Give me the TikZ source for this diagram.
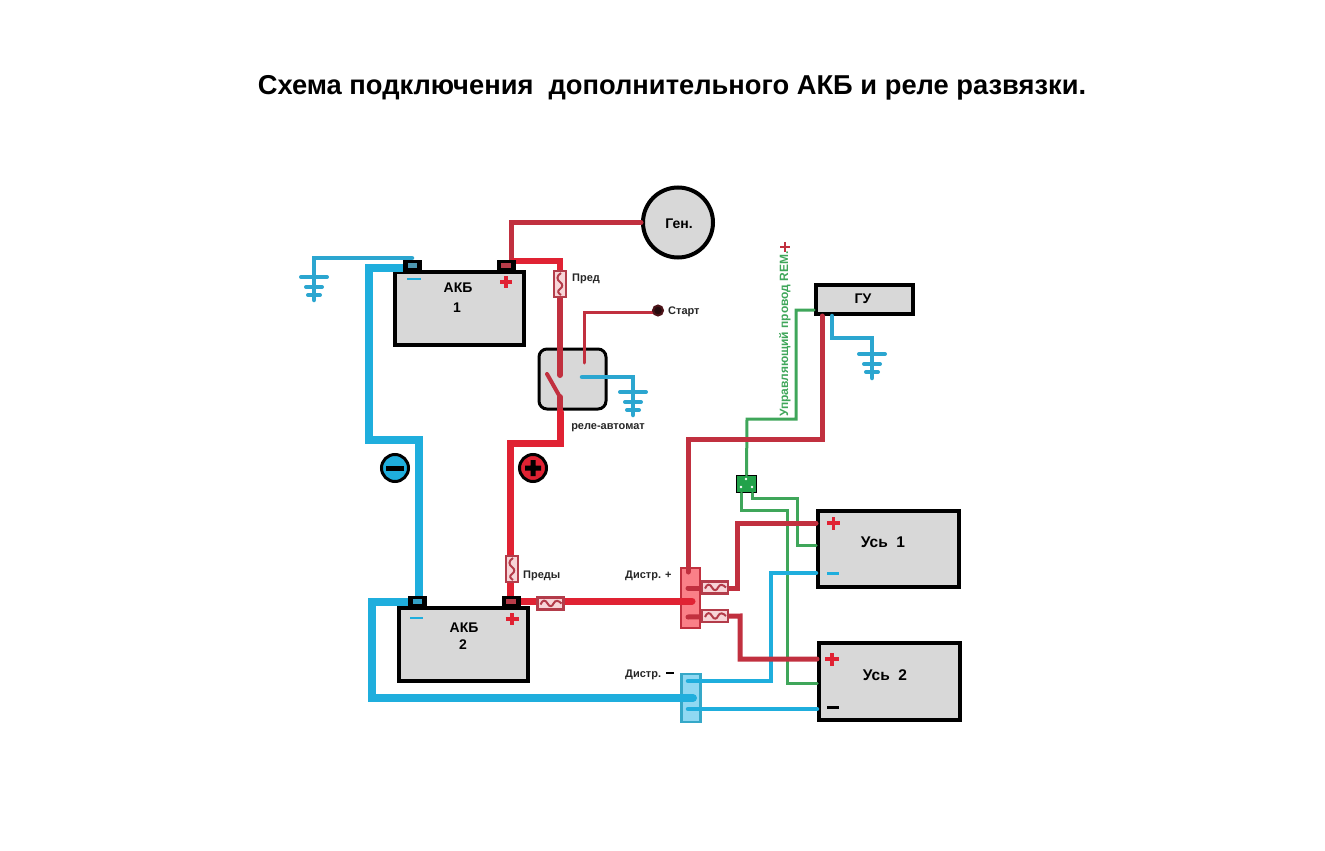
\documentclass[tikz,border=0pt]{standalone}
\usepackage{fontspec}
\setmainfont{Liberation Sans}
\usetikzlibrary{calc}
\definecolor{bred}{HTML}{E02233}
\definecolor{dred}{HTML}{C1303F}
\definecolor{wblue}{HTML}{1FAEDD}
\definecolor{gblue}{HTML}{2BA6D0}
\definecolor{wgreen}{HTML}{3FA65A}
\definecolor{boxg}{HTML}{D8D8D8}
\definecolor{fusepink}{HTML}{F7D5D8}
\definecolor{fuseb}{HTML}{B33C4A}
\definecolor{distp}{HTML}{FA8088}
\definecolor{distb}{HTML}{8FD8F2}
\definecolor{distbl}{HTML}{35A8C8}
\definecolor{spg}{HTML}{22A24A}
\tikzset{
  wire/.style={line cap=round,line join=miter},
  redthick/.style={wire,draw=bred,line width=7pt},
  redmid/.style={wire,draw=dred,line width=6pt},
  redthin/.style={wire,draw=dred,line width=5pt},
  redhair/.style={wire,draw=dred,line width=3pt},
  bluethick/.style={wire,draw=wblue,line width=8pt},
  bluethin/.style={wire,draw=wblue,line width=4.5pt},
  bluedull/.style={wire,draw=gblue,line width=4.5pt},
  greenwire/.style={wire,draw=wgreen,line width=3pt},
  box/.style={draw=black,fill=boxg,line width=4pt,inner sep=0pt},
  term/.style={draw=black,fill=black,line width=0pt,minimum width=18pt,minimum height=11pt,inner sep=0pt},
  lbl/.style={font=\bfseries\fontsize{14}{16}\selectfont,inner sep=0pt,align=center},
  small/.style={font=\bfseries\fontsize{11}{13}\selectfont,inner sep=0pt,text=black!85},
  fuseh/.style={draw=fuseb,fill=fusepink,line width=2.2pt,minimum width=26pt,minimum height=12pt,inner sep=0pt,
    path picture={\draw[fuseb,line width=2pt,shift={(path picture bounding box.center)}] (-10,1) .. controls (-8,-4) and (-5,-4) .. (-3,0) .. controls (-1,4) and (2,3) .. (3,0) .. controls (5,-4) and (8,-3) .. (11,0);}},
  fusev/.style={draw=fuseb,fill=fusepink,line width=2.2pt,minimum width=12pt,minimum height=26pt,inner sep=0pt,
    path picture={\draw[fuseb,line width=2pt,shift={(path picture bounding box.center)}] (1,-11) .. controls (-4,-8) and (-3,-4) .. (0,-2) .. controls (3,0) and (3,3) .. (0,5) .. controls (-3,7) and (-2,9) .. (1,11);}},
  pics/gnd/.style={code={
    \draw[gblue,line width=4pt,line cap=round] (-13,0) -- (13,0);
    \draw[gblue,line width=4pt,line cap=round] (-8,10) -- (8,10);
    \draw[gblue,line width=4pt,line cap=round] (-6,18) -- (6,18);
  }},
}
\begin{document}
\begin{tikzpicture}[x=1pt,y=-1pt]
\useasboundingbox (0,0) rectangle (1325,851);
% title
\node[font=\bfseries\fontsize{27.3}{30}\selectfont,inner sep=0pt] (title) at (672,88) {Схема подключения\ \ дополнительного АКБ и реле развязки.};
% coordinates of wire bends
\coordinate (gnda) at (314,277);
\coordinate (gndb) at (633,392);
\coordinate (gndc) at (872,354);
% devices
\node[draw=black,fill=boxg,line width=4pt,circle,minimum size=70pt,inner sep=0pt] (gen) at (678,222.5) {};
\node[box,minimum width=129pt,minimum height=73pt] (akb1) at (459.5,308.5) {};
\node[box,minimum width=129pt,minimum height=73pt] (akb2) at (463.5,644.5) {};
\node[box,minimum width=97pt,minimum height=29pt] (gu) at (864.5,299.5) {};
\node[box,minimum width=141pt,minimum height=76pt] (us1) at (888.5,549) {};
\node[box,minimum width=141pt,minimum height=77pt] (us2) at (889.5,681.5) {};
\node[draw=black,fill=boxg,line width=3pt,rounded corners=8pt,minimum width=67pt,minimum height=60pt,inner sep=0pt] (rel) at (572.5,379) {};
\node[draw=dred,fill=distp,line width=2.2pt,minimum width=19pt,minimum height=60pt,inner sep=0pt] (dp) at (690.5,598) {};
\node[draw=distbl,fill=distb,line width=2.2pt,minimum width=19pt,minimum height=48pt,inner sep=0pt] (dm) at (691,698) {};
% ports
\coordinate (n1w) at (404,268);
\coordinate (n1t) at (412,258);
\coordinate (n2w) at (410,601.5);
\coordinate (n2t) at (419,598);
\coordinate (p1t) at (511,262);
\coordinate (p1e) at (514,261);
\coordinate (p2e) at (519,601);
\coordinate (p2t) at (510,598);
\coordinate (dpin) at (692,601);
\coordinate (dptop) at (688,572);
\coordinate (dpa) at (688,588);
\coordinate (dpb) at (688,617);
\coordinate (dma) at (688,681);
\coordinate (dmb) at (688,709);
\coordinate (dmin) at (693,698);
% green control wires
\node[draw=black,fill=spg,line width=1.2pt,minimum width=20pt,minimum height=17pt,inner sep=0pt] (sp) at (746.5,484) {};
\draw[greenwire] (gu.west |- 0,310) -- (796,310) -- (796,419) -- (747,419) -- (sp.north);
\draw[greenwire] (741,493) -- (741,510) -- (787,510) -- (787,683) -- (us2.west |- 0,683);
\draw[greenwire] (752,493) -- (752,498) -- (797,498) -- (797,545) -- (us1.west |- 0,545);
\fill[white] (746,479) circle (1.3pt) (741,487) circle (1.3pt) (752,487) circle (1.3pt);
% blue wires
\draw[bluedull] (n1t) -- (314,258) -- (314,300);
\pic at (gnda) {gnd};
\draw[bluethick,line width=8pt] (n1w) -- (369,268) -- (369,440) -- (419,440) -- (n2t);
\draw[bluethick] (n2w) -- (372,601.5) -- (372,698) -- (dmin);
\draw[bluedull] (582,377) -- (633,377) -- (633,415);
\pic at (gndb) {gnd};
\draw[bluethin] (dma) -- (771,681) -- (771,573) -- (us1.west |- 0,573);
\draw[bluethin] (dmb) -- (us2.west |- 0,709);
\draw[bluedull] (832,316) -- (832,338) -- (872,338) -- (872,378);
\pic at (gndc) {gnd};
% red wires
\draw[redthin] (gen.west) -- (511,222.5) -- (p1t);
\draw[redthick,line width=6.5pt] (p1e) -- (560,261) -- (560,272);
\draw[redmid] (560,296) -- (560,375);
\draw[redhair,line width=4pt] (547,374) -- (560,397);
\draw[redmid] (560,397) -- (560,412);
\draw[redthick] (560,412) -- (560,443) -- (510,443) -- (p2t);
\draw[redhair] (584,363) -- (584,312) -- (658,312);
\draw[redthick] (p2e) -- (dpin);
\draw[redthin] (dptop) -- (688,439) -- (822,439) -- (822,316);
\draw[redthin] (dpa) -- (737,588) -- (737,523) -- (us1.west |- 0,523);
\draw[redthin] (dpb) -- (740,616) -- (740,659) -- (us2.west |- 0,659);
% terminals
\node[term] (n1) at (412.5,265.5) {};
\node[term] (p1) at (506,265.5) {};
\node[term] (n2) at (417.5,601.5) {};
\node[term] (p2) at (511,601.5) {};
% fuses
\node[fusev] (fp) at (560,284) {};
\node[fusev] (fpp) at (512,569) {};
\node[fuseh] (fz) at (550.5,603.5) {};
\node[fuseh] (fa) at (715,587.5) {};
\node[fuseh] (fb) at (715,616) {};
% start contact
\node[draw=black!60!dred,fill=black!80!dred,line width=2pt,circle,minimum size=10pt,inner sep=0pt] (st) at (658,310.5) {};
% polarity circles
\node[draw=black,fill=wblue,line width=3pt,circle,minimum size=27pt,inner sep=0pt] (cm) at (395,468) {};
\fill[black] (386,465.5) rectangle (404,470.5);
\node[draw=black,fill=bred,line width=3pt,circle,minimum size=27pt,inner sep=0pt] (cp) at (533,468) {};
\fill[black] (525,465.5) rectangle (541,470.5) (530.5,460) rectangle (535.5,476);
% terminal markers
\fill[gblue!60!gray] (408,263) rectangle (417,268);
\fill[dred!85!gray] (501,263) rectangle (511,268);
\fill[gblue!90!gray] (413,599) rectangle (422,604);
\fill[dred!85!gray] (506,599) rectangle (516,604);
\draw[wblue,line width=2.5pt] (407,279) -- (421,279);
\draw[bred,line width=3.5pt] (500,282) -- (512,282) (506,276) -- (506,288);
\draw[wblue,line width=2.5pt] (410,618) -- (423,618);
\draw[bred,line width=3.5pt] (505.5,619) -- (518.5,619) (512,613) -- (512,625);
\draw[bred,line width=3.5pt] (827,523) -- (840,523) (833.5,517) -- (833.5,530);
\draw[wblue,line width=3pt] (827,573) -- (839,573);
\draw[bred,line width=3.5pt] (825,659) -- (839,659) (832,653) -- (832,666);
\draw[black,line width=3pt] (827,707) -- (839,707);
\draw[black,line width=2.5pt] (666,673) -- (674,673);
\draw[dred,line width=2.5pt] (780,247) -- (790,247) (785,242) -- (785,252);
% labels
\node[lbl] (tgen) at (679,224) {Ген.};
\node[lbl] (ta1) at (458,288) {АКБ};
\node[lbl] (ta1n) at (457,308) {1};
\node[lbl] (ta2) at (464,628) {АКБ};
\node[lbl] (ta2n) at (463,645) {2};
\node[lbl] (tgu) at (863,299) {ГУ};
\node[lbl,font=\bfseries\fontsize{15.5}{17}\selectfont] (tu1) at (883,542) {Усь\ \ 1};
\node[lbl,font=\bfseries\fontsize{15.5}{17}\selectfont] (tu2) at (885,675) {Усь\ \ 2};
\node[small,anchor=west] (tpr) at (572,279) {Пред};
\node[small,anchor=west] (tpp) at (523,576) {Преды};
\node[small,anchor=west] (tst) at (668,312) {Старт};
\node[small] (trel) at (608,428) {реле-автомат};
\node[small,anchor=west] (tdp) at (625,576) {Дистр. +};
\node[small,anchor=west] (tdm) at (625,675) {Дистр.};
\node[small,rotate=90,text=wgreen,font=\bfseries\fontsize{12}{14}\selectfont] (trem) at (785,334) {Управляющий провод REM.};
\end{tikzpicture}
\end{document}
